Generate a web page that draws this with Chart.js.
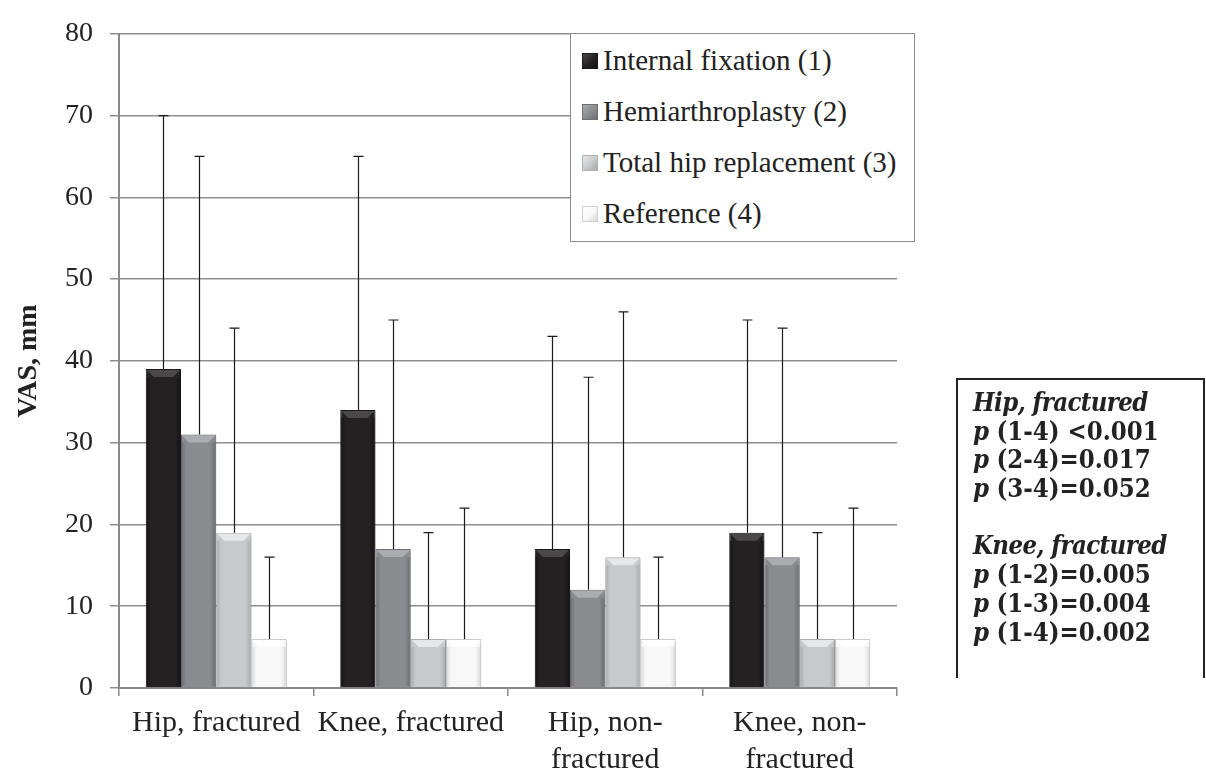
<!DOCTYPE html>
<html>
<head>
<meta charset="utf-8">
<script src="https://cdn.jsdelivr.net/npm/chart.js@4"></script>
<style>
	html, body { margin: 0; padding: 0; background: #fff; overflow: hidden; }
	#wrap { position: relative; width: 1206px; height: 770px; }
	#legend {
		position: absolute; left: 570px; top: 33px; width: 343px; height: 206px;
		border: 1.5px solid #8c8c8c; background: #fff; padding-top: 1px; box-sizing: content-box;
		font-family: 'Liberation Serif', serif; font-size: 29px; color: #222;
	}
	#legend .row { height: 51px; display: flex; align-items: center; }
	#legend .sw { width: 16px; height: 16px; margin-left: 11px; margin-right: 5px; box-sizing: border-box; }
	#stats {
		position: absolute; left: 956px; top: 378px; width: 249px; height: 300px;
		border-left: 2px solid #222; border-top: 2px solid #222; border-right: 2px solid #222;
		padding: 8px 0 0 15px; box-sizing: border-box;
		font-family: 'DejaVu Serif Condensed', 'DejaVu Serif', serif; font-weight: bold;
		font-size: 25.5px; line-height: 28.7px; color: #222;
	}
	#stats div { white-space: nowrap; height: 28.7px; }
	#stats i { letter-spacing: -0.6px; }
</style>
</head>
<body>
<div id="wrap">
	<canvas id="chart" width="1206" height="770"></canvas>
	<div id="legend"></div>
	<div id="stats"></div>
</div>
<script>
	// Categories (multi-line labels as drawn under the axis)
	const categories = [
		['Hip, fractured'],
		['Knee, fractured'],
		['Hip, non-', 'fractured'],
		['Knee, non-', 'fractured']
	];

	const seriesNames = [
		'Internal fixation (1)',
		'Hemiarthroplasty (2)',
		'Total hip replacement (3)',
		'Reference (4)'
	];

	// Mean VAS, mm
	const internalFixation = [39, 34, 17, 19];
	const hemiarthroplasty = [31, 17, 12, 16];
	const totalHip = [19, 6, 16, 6];
	const reference = [6, 6, 6, 6];

	// Upper end of the error bars
	const internalFixationUpper = [70, 65, 43, 45];
	const hemiarthroplastyUpper = [65, 45, 38, 44];
	const totalHipUpper = [44, 19, 46, 19];
	const referenceUpper = [16, 22, 16, 22];

	const yTicks = [0, 10, 20, 30, 40, 50, 60, 70, 80];

	// p-values box
	const statLines = [
		['i', 'Hip, fractured'],
		['p', ' (1-4) <0.001'],
		['p', ' (2-4)=0.017'],
		['p', ' (3-4)=0.052'],
		['', ''],
		['i', 'Knee, fractured'],
		['p', ' (1-2)=0.005'],
		['p', ' (1-3)=0.004'],
		['p', ' (1-4)=0.002']
	];

	const values = [internalFixation, hemiarthroplasty, totalHip, reference];
	const uppers = [internalFixationUpper, hemiarthroplastyUpper, totalHipUpper, referenceUpper];

	// bar look: base fill, lit top bevel, shaded side
	const fills = ['#242122', '#8a8b8e', '#c8c9cb', '#f8f8f8'];
	const tops = ['#4b4849', '#abacaf', '#e6e7e8', '#ffffff'];
	const sides = ['#141213', '#6b6c6f', '#a8a9ab', '#d6d6d6'];
	const borders = ['#1a1819', '#6f7073', '#b0b1b3', '#cfcfcf'];

	const bevelPlugin = {
		id: 'bevel',
		afterDatasetsDraw(chart) {
			const ctx = chart.ctx;
			chart.data.datasets.forEach((ds, i) => {
				const meta = chart.getDatasetMeta(i);
				meta.data.forEach(bar => {
					const l = bar.x - bar.width / 2;
					const r = bar.x + bar.width / 2;
					const t = bar.y;
					const b = bar.base;
					const bv = Math.min(8, (b - t) / 2);
					ctx.save();
					// top bevel
					ctx.fillStyle = tops[i];
					ctx.beginPath();
					ctx.moveTo(l + 1, t + 1);
					ctx.lineTo(r - 1, t + 1);
					ctx.lineTo(r - bv, t + bv);
					ctx.lineTo(l + bv, t + bv);
					ctx.closePath();
					ctx.fill();
					// right shade
					const g = ctx.createLinearGradient(r - 6, 0, r, 0);
					g.addColorStop(0, fills[i]);
					g.addColorStop(1, sides[i]);
					ctx.fillStyle = g;
					ctx.fillRect(r - 6, t + bv, 5, b - t - bv - 1);
					// left shade
					const g2 = ctx.createLinearGradient(l, 0, l + 5, 0);
					g2.addColorStop(0, sides[i]);
					g2.addColorStop(1, fills[i]);
					ctx.fillStyle = g2;
					ctx.fillRect(l + 1, t + bv, 4, b - t - bv - 1);
					ctx.restore();
				});
			});
		}
	};

	const errorBarPlugin = {
		id: 'errorBars',
		afterDatasetsDraw(chart) {
			const ctx = chart.ctx;
			const yScale = chart.scales.y;
			ctx.save();
			ctx.strokeStyle = '#1a1a1a';
			ctx.lineWidth = 1.2;
			chart.data.datasets.forEach((ds, i) => {
				const meta = chart.getDatasetMeta(i);
				meta.data.forEach((bar, j) => {
					const yTop = yScale.getPixelForValue(uppers[i][j]);
					const x = Math.round(bar.x) + 0.5;
					ctx.beginPath();
					ctx.moveTo(x, bar.y);
					ctx.lineTo(x, yTop);
					ctx.moveTo(x - 5, yTop);
					ctx.lineTo(x + 5, yTop);
					ctx.stroke();
				});
			});
			ctx.restore();
		}
	};

	const shadowPlugin = {
		id: 'barShadow',
		beforeDatasetsDraw(chart) {
			const ctx = chart.ctx;
			ctx.save();
			ctx.shadowColor = 'rgba(0,0,0,0.22)';
			ctx.shadowBlur = 4;
			ctx.shadowOffsetX = 1;
			ctx.shadowOffsetY = 2;
		},
		afterDatasetsDraw(chart) {
			chart.ctx.restore();
		}
	};

	Chart.defaults.font.family = "'Liberation Serif', serif";
	Chart.defaults.color = '#222';

	const chart = new Chart(document.getElementById('chart'), {
		type: 'bar',
		data: {
			labels: categories,
			datasets: values.map((v, i) => ({
				label: seriesNames[i],
				data: v,
				backgroundColor: fills[i],
				borderColor: borders[i],
				borderWidth: 1,
				categoryPercentage: 0.725,
				barPercentage: 1
			}))
		},
		plugins: [shadowPlugin, bevelPlugin, errorBarPlugin],
		options: {
			responsive: false,
			animation: false,
			layout: { padding: { left: 0, right: 309, top: 20, bottom: 0 } },
			plugins: {
				legend: { display: false },
				tooltip: { enabled: false }
			},
			scales: {
				x: {
					grid: {
						display: true,
						drawOnChartArea: false,
						offset: true,
						tickLength: 8,
						color: '#8a8a8a',
						lineWidth: 1.5
					},
					border: { color: '#8a8a8a', width: 2 },
					ticks: {
						font: { size: 30, lineHeight: 1.25 },
						padding: 8,
						maxRotation: 0,
						autoSkip: false
					},
					afterFit(scale) { scale.height = 82; }
				},
				y: {
					min: 0,
					max: 80,
					afterBuildTicks(scale) { scale.ticks = yTicks.map(v => ({ value: v })); },
					grid: { color: '#8e8e8e', lineWidth: 1.5, tickLength: 9 },
					border: { color: '#8a8a8a', width: 2 },
					ticks: { font: { size: 28 }, padding: 17 },
					title: {
						display: true,
						text: 'VAS, mm',
						font: { size: 28, weight: 'bold', lineHeight: 1.2 },
						padding: { top: 12, bottom: 0 }
					},
					afterFit(scale) { scale.width = 119; }
				}
			}
		}
	});

	// legend built from the series
	const legend = document.getElementById('legend');
	seriesNames.forEach((name, i) => {
		const row = document.createElement('div');
		row.className = 'row';
		const sw = document.createElement('span');
		sw.className = 'sw';
		sw.style.background = 'linear-gradient(135deg, ' + tops[i] + ' 0%, ' + fills[i] + ' 55%, ' + sides[i] + ' 100%)';
		sw.style.border = '1px solid ' + borders[i];
		const txt = document.createElement('span');
		txt.textContent = name;
		row.appendChild(sw);
		row.appendChild(txt);
		legend.appendChild(row);
	});

	// p-values box
	const stats = document.getElementById('stats');
	statLines.forEach(line => {
		const d = document.createElement('div');
		if (line[0] === 'i') {
			const em = document.createElement('i');
			em.textContent = line[1];
			d.appendChild(em);
		} else if (line[0] === 'p') {
			const em = document.createElement('i');
			em.textContent = 'p';
			d.appendChild(em);
			d.appendChild(document.createTextNode(line[1]));
		}
		stats.appendChild(d);
	});
</script>
</body>
</html>
